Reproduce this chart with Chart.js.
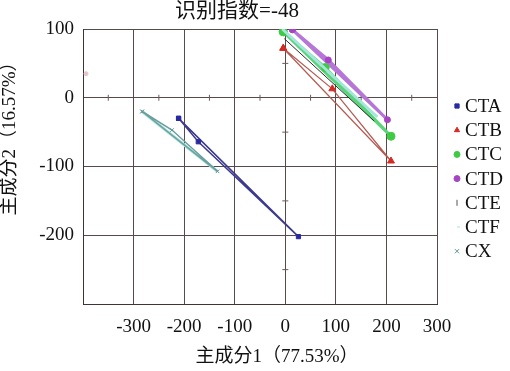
<!DOCTYPE html>
<html>
<head>
<meta charset="utf-8">
<script src="https://cdn.jsdelivr.net/npm/chart.js@4.4.1/dist/chart.umd.min.js"></script>
<style>
html, body { margin: 0; padding: 0; background: #fff; }
</style>
</head>
<body>
<canvas id="pca" width="510" height="371"></canvas>
<script>
// PCA scores (x = PC1, y = PC2); null breaks a line
const seriesNames = ['CTA', 'CTB', 'CTC', 'CTD', 'CTE', 'CTF', 'CX'];
const ctaX = [-211, -172, 26, -211];
const ctaY = [-30, -64, -202, -30];
const ctbX = [-4, 93, 209, -4];
const ctbY = [72, 13, -92, 72];
const ctcX = [-4, 79, 209, -4];
const ctcY = [96, 44, -56, 96];
const ctdX = [-394, null, 14, 85, 202, 14];
const ctdY = [35, null, 99, 55, -32, 99];
const cteX = [-2, 176];
const cteY = [86, -34];
const ctfX = [-283, -134, null, -6, 182];
const ctfY = [-20, -107, null, 100, -28];
const cxX = [-283, -224, -134, -283];
const cxY = [-20, -47, -107, -20];

const xTicks = [-300, -200, -100, 0, 100, 200, 300];
const yTicks = [100, 0, -100, -200];
const minorX = [-350, -250, -150, -50, 50, 150, 250];
const minorY = [50, -50, -150, -250];

const chartTitle = '识别指数=-48';
const xTitle = '主成分1（77.53%）';
const yTitle = '主成分2（16.57%）';

const SERIF = "'Liberation Serif', 'Noto Sans CJK SC', serif";

function pts(xs, ys) {
    return xs.map(function(v, i) { return { x: v, y: ys[i] }; });
}

const datasets = [
    { label: 'CTA', data: pts(ctaX, ctaY), borderColor: '#3d3a8e', backgroundColor: '#2a2aa0',
      borderWidth: 1.5, pointStyle: 'rect', pointRadius: 3, order: 1 },
    { label: 'CTB', data: pts(ctbX, ctbY), borderColor: '#b45a52', backgroundColor: '#d42a22',
      borderWidth: 1.2, pointStyle: 'triangle', pointRadius: 4, order: 2 },
    { label: 'CTC', data: pts(ctcX, ctcY), borderColor: '#5ad47a', backgroundColor: '#3ecb44',
      borderWidth: 3, pointStyle: 'circle', pointRadius: 4, order: 4 },
    { label: 'CTD', data: pts(ctdX, ctdY), borderColor: '#b775d8', backgroundColor: ['#e8c4c8', null, '#a544c4', '#a544c4', '#a544c4', '#a544c4'],
      borderWidth: 3, pointStyle: 'circle', pointRadius: [2, 0, 3, 3, 3, 3], order: 5 },
    { label: 'CTE', data: pts(cteX, cteY), borderColor: '#2e2a2a', backgroundColor: '#555',
      borderWidth: 1, pointStyle: 'line', pointRotation: 90, pointRadius: 0, order: 0 },
    { label: 'CTF', data: pts(ctfX, ctfY), borderColor: '#a6e4dc', backgroundColor: '#a6e4dc',
      borderWidth: 3, pointStyle: 'dash', pointRadius: 0, order: 3 },
    { label: 'CX', data: pts(cxX, cxY), borderColor: '#6d9f9f', backgroundColor: '#5e9696',
      borderWidth: 1.5, pointStyle: 'crossRot', pointRadius: 2.5, order: 1 }
];
datasets.forEach(function(d) {
    d.showLine = true;
    d.spanGaps = false;
    d.pointBorderColor = d.backgroundColor;
    d.pointBorderWidth = 1;
});

const decor = {
    id: 'decor',
    beforeDatasetsDraw(chart) {
        const { ctx, scales: { x, y } } = chart;
        const x0 = x.getPixelForValue(0), y0 = y.getPixelForValue(0);
        ctx.save();
        ctx.strokeStyle = '#6a5a5a';
        ctx.lineWidth = 1;
        ctx.beginPath();
        minorX.forEach(function(v) {
            const px = x.getPixelForValue(v);
            ctx.moveTo(px, y0 - 3); ctx.lineTo(px, y0 + 3);
        });
        minorY.forEach(function(v) {
            const py = y.getPixelForValue(v);
            ctx.moveTo(x0 - 3, py); ctx.lineTo(x0 + 3, py);
        });
        ctx.stroke();
        ctx.restore();
    },
    afterDraw(chart) {
        const ctx = chart.ctx;
        ctx.save();
        ctx.fillStyle = '#111';
        ctx.textBaseline = 'middle';
        ctx.textAlign = 'center';
        ctx.font = '21px ' + SERIF;
        ctx.fillText(chartTitle, 237, 11);
        ctx.font = '19px ' + SERIF;
        ctx.fillText(xTitle, 277, 357);
        ctx.save();
        ctx.translate(10, 134);
        ctx.rotate(-Math.PI / 2);
        ctx.fillText(yTitle, 0, 0);
        ctx.restore();

        // legend
        ctx.font = '19px ' + SERIF;
        ctx.textAlign = 'left';
        chart.data.datasets.forEach(function(d, i) {
            const ly = 106 + i * 24.2;
            const col = Array.isArray(d.backgroundColor) ? d.backgroundColor[2] : d.backgroundColor;
            ctx.fillStyle = col;
            ctx.strokeStyle = col;
            ctx.lineWidth = 1;
            Chart.helpers.drawPoint(ctx, {
                pointStyle: d.pointStyle,
                rotation: d.pointRotation || 0,
                radius: 3,
                borderWidth: 1
            }, 457, ly);
            ctx.fillStyle = '#111';
            ctx.fillText(d.label, 465, ly + 1);
        });
        ctx.restore();
    }
};

const gridColor = '#584a4a';

new Chart(document.getElementById('pca'), {
    type: 'scatter',
    data: { datasets: datasets },
    options: {
        responsive: false,
        animation: false,
        layout: { padding: { left: 0, top: 29, right: 73, bottom: 0 } },
        plugins: {
            legend: { display: false },
            title: { display: false },
            tooltip: { enabled: false }
        },
        scales: {
            x: {
                type: 'linear',
                min: -400,
                max: 300,
                afterFit: function(s) { s.height = 67; },
                grid: { color: gridColor, lineWidth: 1, drawTicks: false },
                border: { color: '#3e3434', width: 1 },
                ticks: {
                    stepSize: 100,
                    padding: 12,
                    color: '#111',
                    font: { family: SERIF, size: 19 },
                    callback: function(v) { return xTicks.includes(v) ? String(v) : ''; }
                }
            },
            y: {
                type: 'linear',
                min: -300,
                max: 100,
                afterFit: function(s) { s.width = 83; },
                grid: { color: gridColor, lineWidth: 1, drawTicks: false },
                border: { color: '#3e3434', width: 1 },
                ticks: {
                    stepSize: 100,
                    padding: 9,
                    color: '#111',
                    font: { family: SERIF, size: 19 },
                    callback: function(v) { return yTicks.includes(v) ? String(v) : ''; }
                }
            }
        }
    },
    plugins: [decor]
});
</script>
</body>
</html>
